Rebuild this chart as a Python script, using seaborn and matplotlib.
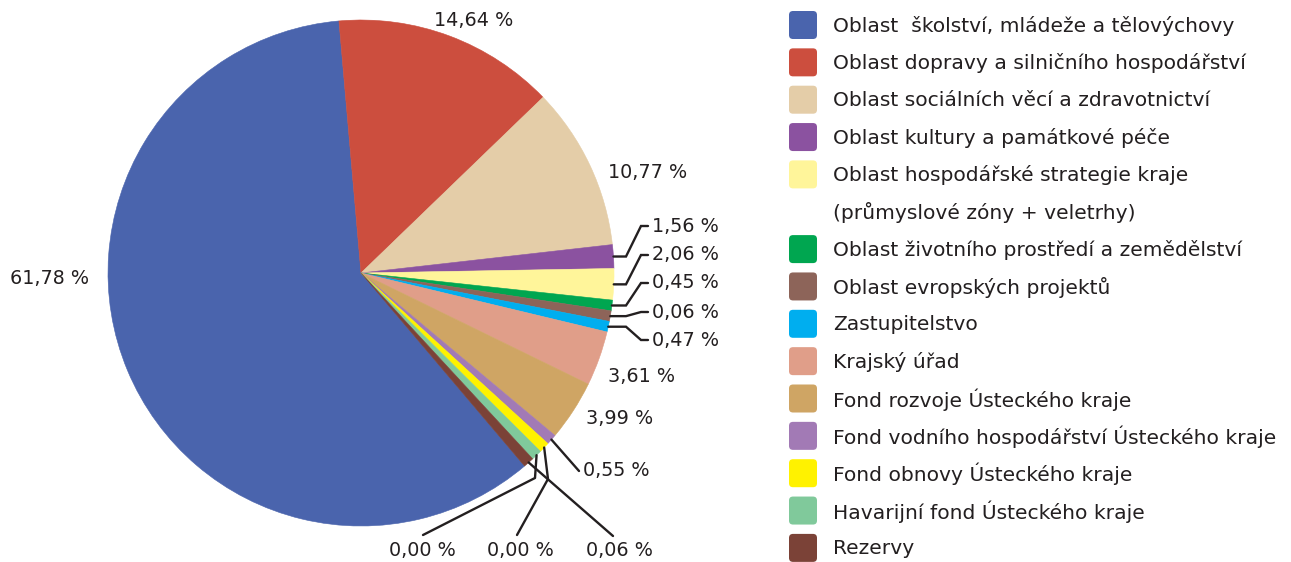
import numpy as np
import matplotlib
matplotlib.use("Agg")
import matplotlib.pyplot as plt
from matplotlib.patches import FancyBboxPatch
import seaborn as sns

# ---------------- data ----------------
categories = [
    "Oblast  školství, mládeže a tělovýchovy",
    "Oblast dopravy a silničního hospodářství",
    "Oblast sociálních věcí a zdravotnictví",
    "Oblast kultury a památkové péče",
    "Oblast hospodářské strategie kraje\n(průmyslové zóny + veletrhy)",
    "Oblast životního prostředí a zemědělství",
    "Oblast evropských projektů",
    "Zastupitelstvo",
    "Krajský úřad",
    "Fond rozvoje Ústeckého kraje",
    "Fond vodního hospodářství Ústeckého kraje",
    "Fond obnovy Ústeckého kraje",
    "Havarijní fond Ústeckého kraje",
    "Rezervy",
]
shares = [61.78, 14.64, 10.77, 1.56, 2.06, 0.45, 0.06, 0.47,
          3.61, 3.99, 0.55, 0.00, 0.00, 0.06]
labels = ["61,78 %", "14,64 %", "10,77 %", "1,56 %", "2,06 %", "0,45 %",
          "0,06 %", "0,47 %", "3,61 %", "3,99 %", "0,55 %", "0,00 %",
          "0,00 %", "0,06 %"]
colors = ["#4a64ad", "#cc4e3e", "#e4cda8", "#8b52a0", "#fff59a", "#00a650",
          "#8d6459", "#00aeef", "#e09e89", "#cfa564", "#a27ab5", "#fff200",
          "#80c99b", "#7b4237"]

# tiny slices are drawn with a minimum visible width, as in the reference
MIN_VISIBLE = 0.7

sns.set_theme(style="white")
plt.rcParams["font.family"] = ["DejaVu Sans"]
TXT = "#231f20"
FS = 13.8      # percentage labels
FS_LEG = 14.6  # legend text

W, H = 1291, 562
fig = plt.figure(figsize=(W / 100, H / 100), dpi=100)

# pie geometry (pixels)
CX, CY, R = 361, 273, 253
ax = fig.add_axes([(CX - R) / W, (H - CY - R) / H, 2 * R / W, 2 * R / H])

sizes = np.maximum(np.array(shares), MIN_VISIBLE)
frac = sizes / sizes.sum()
start = 95 + 360 * frac[0]
wedges, _ = ax.pie(sizes, colors=colors, startangle=start, counterclock=False,
                   radius=1, wedgeprops=dict(linewidth=0.4, edgecolor="white"))
for w in wedges:
    w.set_edgecolor(w.get_facecolor())
ax.set_xlim(-1, 1)
ax.set_ylim(-1, 1)
ax.set_aspect("equal")
ax.axis("off")

# overlay axes in pixel coordinates
ov = fig.add_axes([0, 0, 1, 1], facecolor="none")
ov.set_xlim(0, W)
ov.set_ylim(H, 0)
ov.axis("off")


def edge_point(i, r=1.0):
    w = wedges[i]
    a = np.deg2rad((w.theta1 + w.theta2) / 2)
    return CX + R * r * np.cos(a), CY - R * r * np.sin(a)


# direct labels (no leader)
direct = {0: (50, 278), 1: (474, 20), 2: (648, 173), 8: (641, 376), 9: (620, 418)}
for i, (x, y) in direct.items():
    ov.text(x, y, labels[i], ha="center", va="center", fontsize=FS, color=TXT)

# right-hand stack with elbow leaders
stack = {3: 226, 4: 255, 5: 283, 6: 312, 7: 340}
for i, ly in stack.items():
    sx, sy = edge_point(i)
    ov.plot([sx, 626, 641, 648], [sy, sy, ly, ly], color=TXT, lw=1.7,
            solid_joinstyle="miter")
    ov.text(652, ly, labels[i], ha="left", va="center", fontsize=FS, color=TXT)

# bottom leaders
sx, sy = edge_point(10)
ov.plot([sx, 579], [sy, 471], color=TXT, lw=1.7)
ov.text(583, 471, labels[10], ha="left", va="center", fontsize=FS, color=TXT)

sx, sy = edge_point(11)
ov.plot([sx, 548, 517], [sy, 479, 535], color=TXT, lw=1.7)
ov.text(520, 551, labels[11], ha="center", va="center", fontsize=FS, color=TXT)

sx, sy = edge_point(12)
ov.plot([sx, 535, 423], [sy, 478, 535], color=TXT, lw=1.7)
ov.text(422, 551, labels[12], ha="center", va="center", fontsize=FS, color=TXT)

sx, sy = edge_point(13)
ov.plot([sx, 613], [sy, 536], color=TXT, lw=1.7)
ov.text(619, 551, labels[13], ha="center", va="center", fontsize=FS, color=TXT)

# legend
row0, step = 25, 37.35
k = 0
for name, col in zip(categories, colors):
    y = row0 + step * k
    ov.add_patch(FancyBboxPatch((789, y - 14), 28, 28,
                                boxstyle="round,pad=0,rounding_size=4",
                                facecolor=col, edgecolor="none"))
    lines = name.split("\n")
    for j, ln in enumerate(lines):
        ov.text(833, y + step * j + 1, ln, ha="left", va="center",
                fontsize=FS_LEG, color=TXT)
    k += len(lines)

fig.savefig("out.png", dpi=100, facecolor="white")
